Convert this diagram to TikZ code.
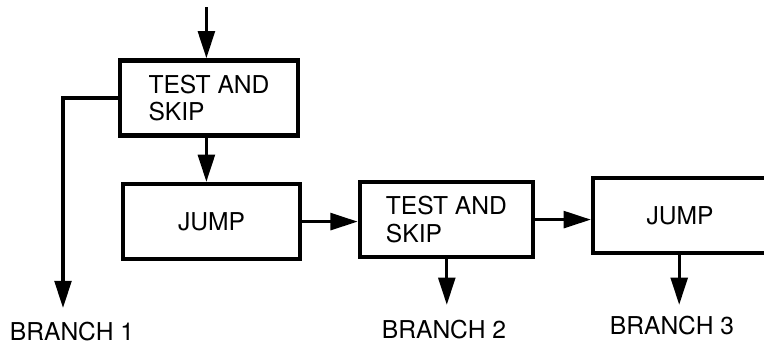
\documentclass[tikz,border=0pt]{standalone}
\usepackage{fontspec}
\setmainfont{TeX Gyre Heros}
\usetikzlibrary{arrows.meta,positioning,calc}

\begin{document}
\begin{tikzpicture}[
  blk/.style={draw,line width=3pt,minimum height=1.88cm,align=left,
    font=\fontsize{17.5}{19.5}\selectfont},
  flow/.style={line width=2.2pt,-{Triangle[length=0.68cm,width=0.42cm]}},
  lbl/.style={font=\fontsize{17.5}{19.5}\selectfont}]
\path[use as bounding box,clip] (0,0) rectangle (19.1,-8.725);
% boxes
\node[blk,minimum width=4.45cm] (ts1) at (5.225,-2.45) {TEST AND\\SKIP};
\node[blk,minimum width=4.43cm] (jump1) at (5.29,-5.54) {JUMP};
\node[blk,minimum width=4.33cm] (ts2) at (11.16,-5.49) {TEST AND\\SKIP};
\node[blk,minimum width=4.35cm] (jump2) at (17.0,-5.39) {JUMP};
% branch labels
\node[lbl] (br1) at (1.8,-8.28) {BRANCH 1};
\node[lbl] (br2) at (11.1,-8.23) {BRANCH 2};
\node[lbl] (br3) at (16.8,-8.15) {BRANCH 3};
% free ends
\coordinate (entry) at (5.16,-0.18);
\coordinate (tip1) at (1.575,-7.7);
\coordinate (tip2) at (11.17,-7.62);
\coordinate (tip3) at (16.98,-7.62);
% connectors
\draw[flow] (entry) -- (entry |- ts1.north);
\draw[flow] (ts1.south -| entry) -- (entry |- jump1.north);
\draw[flow] (ts1.west) -| (tip1);
\draw[flow] (jump1.east) -- (jump1.east -| ts2.west);
\draw[flow] (ts2.east) -- (ts2.east -| jump2.west);
\draw[flow] (ts2.south -| tip2) -- (tip2);
\draw[flow] (jump2.south -| tip3) -- (tip3);
\end{tikzpicture}
\end{document}
